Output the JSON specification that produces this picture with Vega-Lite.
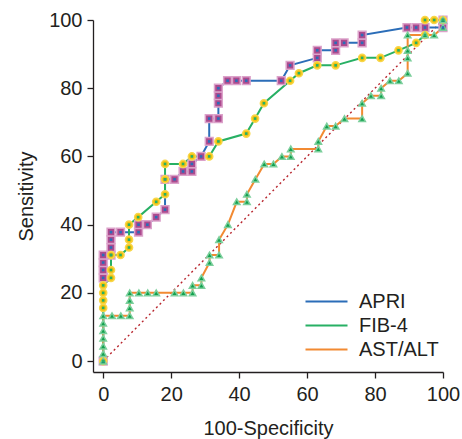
{
  "$schema": "https://vega.github.io/schema/vega-lite/v6.json",
  "width": 350,
  "height": 352,
  "autosize": {"type": "none"},
  "padding": {"left": 93, "top": 20, "right": 19, "bottom": 67},
  "config": {"view": {"stroke": null}, "font": "Liberation Sans"},
  "datasets": {
    "diag": [{"x": 0, "y": 0}, {"x": 100, "y": 100}],
    "roc": [
      {"series": "APRI", "i": 1, "x": 0, "y": 0},
      {"series": "APRI", "i": 2, "x": 0, "y": 24.4},
      {"series": "APRI", "i": 3, "x": 0, "y": 26.7},
      {"series": "APRI", "i": 4, "x": 0, "y": 28.9},
      {"series": "APRI", "i": 5, "x": 0, "y": 31.1},
      {"series": "APRI", "i": 6, "x": 2.3, "y": 31.1},
      {"series": "APRI", "i": 7, "x": 2.3, "y": 33.3},
      {"series": "APRI", "i": 8, "x": 2.3, "y": 35.6},
      {"series": "APRI", "i": 9, "x": 2.3, "y": 37.8},
      {"series": "APRI", "i": 10, "x": 5.1, "y": 37.8},
      {"series": "APRI", "i": 11, "x": 10.4, "y": 37.8},
      {"series": "APRI", "i": 12, "x": 10.4, "y": 40.0},
      {"series": "APRI", "i": 13, "x": 13.0, "y": 40.0},
      {"series": "APRI", "i": 14, "x": 15.6, "y": 42.2},
      {"series": "APRI", "i": 15, "x": 18.2, "y": 44.4},
      {"series": "APRI", "i": 16, "x": 18.2, "y": 53.3},
      {"series": "APRI", "i": 17, "x": 21.0, "y": 53.3},
      {"series": "APRI", "i": 18, "x": 23.5, "y": 55.6},
      {"series": "APRI", "i": 19, "x": 26.1, "y": 55.6},
      {"series": "APRI", "i": 20, "x": 26.1, "y": 57.8},
      {"series": "APRI", "i": 21, "x": 28.8, "y": 60.0},
      {"series": "APRI", "i": 22, "x": 31.2, "y": 64.4},
      {"series": "APRI", "i": 23, "x": 31.2, "y": 71.1},
      {"series": "APRI", "i": 24, "x": 33.9, "y": 71.1},
      {"series": "APRI", "i": 25, "x": 33.9, "y": 75.6},
      {"series": "APRI", "i": 26, "x": 33.9, "y": 77.8},
      {"series": "APRI", "i": 27, "x": 33.9, "y": 80.0},
      {"series": "APRI", "i": 28, "x": 36.6, "y": 82.2},
      {"series": "APRI", "i": 29, "x": 39.2, "y": 82.2},
      {"series": "APRI", "i": 30, "x": 42.1, "y": 82.2},
      {"series": "APRI", "i": 31, "x": 52.4, "y": 82.2},
      {"series": "APRI", "i": 32, "x": 55.0, "y": 86.7},
      {"series": "APRI", "i": 33, "x": 63.0, "y": 88.9},
      {"series": "APRI", "i": 34, "x": 63.0, "y": 91.1},
      {"series": "APRI", "i": 35, "x": 68.4, "y": 91.1},
      {"series": "APRI", "i": 36, "x": 68.4, "y": 93.3},
      {"series": "APRI", "i": 37, "x": 70.9, "y": 93.3},
      {"series": "APRI", "i": 38, "x": 76.2, "y": 93.3},
      {"series": "APRI", "i": 39, "x": 76.2, "y": 95.6},
      {"series": "APRI", "i": 40, "x": 89.4, "y": 97.8},
      {"series": "APRI", "i": 41, "x": 92.1, "y": 97.8},
      {"series": "APRI", "i": 42, "x": 94.7, "y": 97.8},
      {"series": "APRI", "i": 43, "x": 100, "y": 97.8},
      {"series": "APRI", "i": 44, "x": 100, "y": 100},

      {"series": "FIB-4", "i": 1, "x": 0, "y": 0},
      {"series": "FIB-4", "i": 2, "x": 0, "y": 15.6},
      {"series": "FIB-4", "i": 3, "x": 0, "y": 17.8},
      {"series": "FIB-4", "i": 4, "x": 0, "y": 20.0},
      {"series": "FIB-4", "i": 5, "x": 0, "y": 22.2},
      {"series": "FIB-4", "i": 6, "x": 2.3, "y": 24.4},
      {"series": "FIB-4", "i": 7, "x": 2.3, "y": 26.7},
      {"series": "FIB-4", "i": 8, "x": 2.3, "y": 31.1},
      {"series": "FIB-4", "i": 9, "x": 5.1, "y": 31.1},
      {"series": "FIB-4", "i": 10, "x": 7.6, "y": 33.3},
      {"series": "FIB-4", "i": 11, "x": 7.6, "y": 35.6},
      {"series": "FIB-4", "i": 12, "x": 7.6, "y": 40.0},
      {"series": "FIB-4", "i": 13, "x": 10.3, "y": 42.2},
      {"series": "FIB-4", "i": 14, "x": 15.6, "y": 46.7},
      {"series": "FIB-4", "i": 15, "x": 18.2, "y": 48.9},
      {"series": "FIB-4", "i": 16, "x": 18.2, "y": 53.3},
      {"series": "FIB-4", "i": 17, "x": 18.2, "y": 57.8},
      {"series": "FIB-4", "i": 18, "x": 23.5, "y": 57.8},
      {"series": "FIB-4", "i": 19, "x": 26.1, "y": 60.0},
      {"series": "FIB-4", "i": 20, "x": 31.2, "y": 60.0},
      {"series": "FIB-4", "i": 21, "x": 33.9, "y": 64.4},
      {"series": "FIB-4", "i": 22, "x": 42.1, "y": 66.7},
      {"series": "FIB-4", "i": 23, "x": 44.7, "y": 71.1},
      {"series": "FIB-4", "i": 24, "x": 47.3, "y": 75.6},
      {"series": "FIB-4", "i": 25, "x": 55.0, "y": 82.2},
      {"series": "FIB-4", "i": 26, "x": 57.6, "y": 84.4},
      {"series": "FIB-4", "i": 27, "x": 63.0, "y": 86.7},
      {"series": "FIB-4", "i": 28, "x": 68.4, "y": 86.7},
      {"series": "FIB-4", "i": 29, "x": 76.2, "y": 88.9},
      {"series": "FIB-4", "i": 30, "x": 81.6, "y": 88.9},
      {"series": "FIB-4", "i": 31, "x": 86.9, "y": 91.1},
      {"series": "FIB-4", "i": 32, "x": 92.1, "y": 93.3},
      {"series": "FIB-4", "i": 33, "x": 94.7, "y": 95.6},
      {"series": "FIB-4", "i": 34, "x": 94.7, "y": 100},
      {"series": "FIB-4", "i": 35, "x": 97.4, "y": 100},
      {"series": "FIB-4", "i": 36, "x": 100, "y": 100},

      {"series": "AST/ALT", "i": 1, "x": 0, "y": 0},
      {"series": "AST/ALT", "i": 2, "x": 0, "y": 2.2},
      {"series": "AST/ALT", "i": 3, "x": 0, "y": 4.4},
      {"series": "AST/ALT", "i": 4, "x": 0, "y": 6.7},
      {"series": "AST/ALT", "i": 5, "x": 0, "y": 8.9},
      {"series": "AST/ALT", "i": 6, "x": 0, "y": 11.1},
      {"series": "AST/ALT", "i": 7, "x": 0, "y": 13.3},
      {"series": "AST/ALT", "i": 8, "x": 2.6, "y": 13.3},
      {"series": "AST/ALT", "i": 9, "x": 5.2, "y": 13.3},
      {"series": "AST/ALT", "i": 10, "x": 7.8, "y": 13.3},
      {"series": "AST/ALT", "i": 11, "x": 7.8, "y": 15.6},
      {"series": "AST/ALT", "i": 12, "x": 7.8, "y": 17.8},
      {"series": "AST/ALT", "i": 13, "x": 7.8, "y": 20.0},
      {"series": "AST/ALT", "i": 14, "x": 10.5, "y": 20.0},
      {"series": "AST/ALT", "i": 15, "x": 13.1, "y": 20.0},
      {"series": "AST/ALT", "i": 16, "x": 15.6, "y": 20.0},
      {"series": "AST/ALT", "i": 17, "x": 21.0, "y": 20.0},
      {"series": "AST/ALT", "i": 18, "x": 23.6, "y": 20.0},
      {"series": "AST/ALT", "i": 19, "x": 26.3, "y": 20.0},
      {"series": "AST/ALT", "i": 20, "x": 26.3, "y": 22.2},
      {"series": "AST/ALT", "i": 21, "x": 28.9, "y": 22.2},
      {"series": "AST/ALT", "i": 22, "x": 28.9, "y": 24.4},
      {"series": "AST/ALT", "i": 23, "x": 31.3, "y": 28.9},
      {"series": "AST/ALT", "i": 24, "x": 31.3, "y": 31.1},
      {"series": "AST/ALT", "i": 25, "x": 34.1, "y": 31.1},
      {"series": "AST/ALT", "i": 26, "x": 34.1, "y": 35.6},
      {"series": "AST/ALT", "i": 27, "x": 36.7, "y": 40.0},
      {"series": "AST/ALT", "i": 28, "x": 39.3, "y": 46.7},
      {"series": "AST/ALT", "i": 29, "x": 42.3, "y": 46.7},
      {"series": "AST/ALT", "i": 30, "x": 42.3, "y": 48.9},
      {"series": "AST/ALT", "i": 31, "x": 44.8, "y": 53.3},
      {"series": "AST/ALT", "i": 32, "x": 47.4, "y": 57.8},
      {"series": "AST/ALT", "i": 33, "x": 50.1, "y": 57.8},
      {"series": "AST/ALT", "i": 34, "x": 52.6, "y": 60.0},
      {"series": "AST/ALT", "i": 35, "x": 55.2, "y": 60.0},
      {"series": "AST/ALT", "i": 36, "x": 55.2, "y": 62.2},
      {"series": "AST/ALT", "i": 37, "x": 63.3, "y": 62.2},
      {"series": "AST/ALT", "i": 38, "x": 63.3, "y": 64.4},
      {"series": "AST/ALT", "i": 39, "x": 65.8, "y": 68.9},
      {"series": "AST/ALT", "i": 40, "x": 68.4, "y": 68.9},
      {"series": "AST/ALT", "i": 41, "x": 71.0, "y": 71.1},
      {"series": "AST/ALT", "i": 42, "x": 76.2, "y": 71.1},
      {"series": "AST/ALT", "i": 43, "x": 76.2, "y": 75.6},
      {"series": "AST/ALT", "i": 44, "x": 78.8, "y": 77.8},
      {"series": "AST/ALT", "i": 45, "x": 81.8, "y": 77.8},
      {"series": "AST/ALT", "i": 46, "x": 81.8, "y": 80.0},
      {"series": "AST/ALT", "i": 47, "x": 84.4, "y": 82.2},
      {"series": "AST/ALT", "i": 48, "x": 87.0, "y": 82.2},
      {"series": "AST/ALT", "i": 49, "x": 89.6, "y": 84.4},
      {"series": "AST/ALT", "i": 50, "x": 89.6, "y": 88.9},
      {"series": "AST/ALT", "i": 51, "x": 89.6, "y": 91.1},
      {"series": "AST/ALT", "i": 52, "x": 89.6, "y": 95.6},
      {"series": "AST/ALT", "i": 53, "x": 94.7, "y": 95.6},
      {"series": "AST/ALT", "i": 54, "x": 97.4, "y": 95.6},
      {"series": "AST/ALT", "i": 55, "x": 100, "y": 97.8},
      {"series": "AST/ALT", "i": 56, "x": 100, "y": 100}
    ]
  },
  "encoding": {
    "x": {
      "field": "x", "type": "quantitative",
      "scale": {"domain": [-3, 100], "nice": false, "zero": false},
      "axis": {
        "title": "100-Specificity", "values": [0, 20, 40, 60, 80, 100], "grid": false,
        "domainColor": "#231f20", "domainWidth": 1.3, "tickColor": "#231f20", "tickWidth": 1.3, "tickSize": 6,
        "labelFontSize": 20, "labelColor": "#231f20", "labelPadding": 6, "labelFlush": false,
        "titleFontSize": 20, "titleFontWeight": "normal", "titleColor": "#231f20", "titlePadding": 14
      }
    },
    "y": {
      "field": "y", "type": "quantitative",
      "scale": {"domain": [-3.2, 100], "nice": false, "zero": false},
      "axis": {
        "title": "Sensitivity", "values": [0, 20, 40, 60, 80, 100], "grid": false,
        "domainColor": "#231f20", "domainWidth": 1.3, "tickColor": "#231f20", "tickWidth": 1.3, "tickSize": 6,
        "labelFontSize": 20, "labelColor": "#231f20", "labelPadding": 5, "labelFlush": false,
        "titleFontSize": 20, "titleFontWeight": "normal", "titleColor": "#231f20", "titlePadding": 12
      }
    }
  },
  "layer": [
    {
      "data": {"name": "diag"},
      "mark": {"type": "line", "color": "#b8262e", "strokeWidth": 1.4, "strokeDash": [2, 3]},
      "encoding": {}
    },
    {
      "data": {"name": "roc"},
      "mark": {"type": "line", "strokeWidth": 2},
      "encoding": {
        "order": {"field": "i", "type": "quantitative"},
        "color": {
          "field": "series", "type": "nominal",
          "scale": {"domain": ["APRI", "FIB-4", "AST/ALT"], "range": ["#2b6db8", "#27b064", "#f28a32"]},
          "legend": {
            "title": null, "orient": "none", "legendX": 222, "legendY": 270,
            "symbolType": "M-2,0H2", "symbolSize": 441, "symbolStrokeWidth": 2,
            "labelFontSize": 20, "labelColor": "#231f20", "labelOffset": 21, "rowPadding": 2
          }
        }
      }
    },
    {
      "data": {"name": "roc"},
      "mark": {"type": "point", "filled": true, "opacity": 1, "strokeWidth": 1.5},
      "encoding": {
        "shape": {
          "field": "series", "type": "nominal",
          "scale": {"domain": ["APRI", "FIB-4", "AST/ALT"], "range": ["square", "circle", "triangle-up"]},
          "legend": null
        },
        "size": {
          "field": "series", "type": "nominal",
          "scale": {"domain": ["APRI", "FIB-4", "AST/ALT"], "range": [60, 42, 50]},
          "legend": null
        },
        "fill": {
          "field": "series", "type": "nominal",
          "scale": {"domain": ["APRI", "FIB-4", "AST/ALT"], "range": ["#ac4a8e", "#f4c20d", "#12a04e"]},
          "legend": null
        },
        "stroke": {
          "field": "series", "type": "nominal",
          "scale": {"domain": ["APRI", "FIB-4", "AST/ALT"], "range": ["#dca2ca", "#f8d64a", "#7ccf9c"]},
          "legend": null
        }
      }
    },
    {
      "data": {"name": "roc"},
      "transform": [{"filter": "datum.series !== 'AST/ALT'"}],
      "mark": {"type": "point", "filled": true, "opacity": 1, "size": 7},
      "encoding": {
        "shape": {"value": "square"},
        "color": {
          "field": "series", "type": "nominal",
          "scale": {"domain": ["APRI", "FIB-4"], "range": ["#ee6a3a", "#2f6fb4"]},
          "legend": null
        }
      }
    }
  ]
}
